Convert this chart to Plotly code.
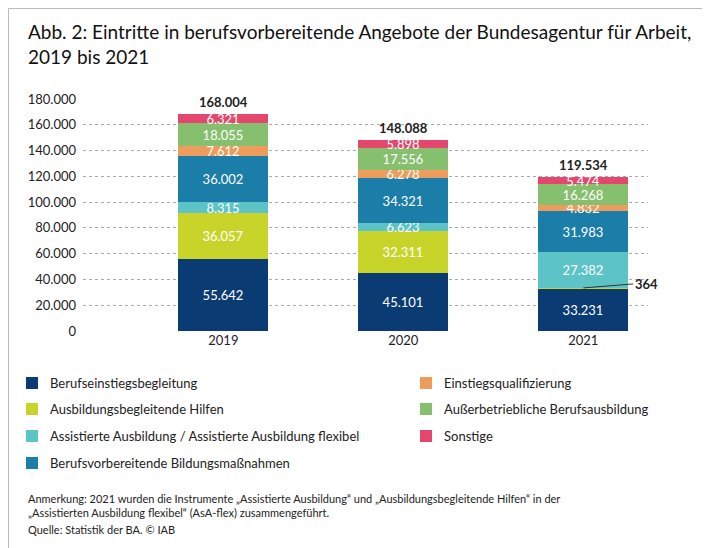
import plotly.graph_objects as go

years = ["2019", "2020", "2021"]
series = [
    ("Berufseinstiegsbegleitung", "#0b3b73", [55642, 45101, 33231]),
    ("Ausbildungsbegleitende Hilfen", "#c9d42b", [36057, 32311, 364]),
    ("Assistierte Ausbildung / Assistierte Ausbildung flexibel", "#5cc3c6", [8315, 6623, 27382]),
    ("Berufsvorbereitende Bildungsmaßnahmen", "#1b7ea8", [36002, 34321, 31983]),
    ("Einstiegsqualifizierung", "#ee9c5c", [7612, 6278, 4832]),
    ("Außerbetriebliche Berufsausbildung", "#86bf6e", [18055, 17556, 16268]),
    ("Sonstige", "#e5466d", [6321, 5898, 5474]),
]
totals = [168004, 148088, 119534]
yticks = list(range(0, 180001, 20000))


def de(n):
    return f"{n:,}".replace(",", ".")


FONT = "Lato"
W, H = 710, 548
L, R, T, B = 75, 70, 91, 225
PW, PH = W - L - R, H - T - B


# pixel -> paper coordinates (paper is the plot area)
def px(x):
    return (x - L) / PW


def py(y):
    return (H - B - y) / PH


xs = [0, 1, 2]
fig = go.Figure()
for name, color, vals in series:
    fig.add_trace(go.Bar(
        x=xs, y=vals, name=name, marker=dict(color=color, line=dict(width=0)),
        width=0.5,
        text=[de(v) if v > 1000 else "" for v in vals],
        textposition="inside", insidetextanchor="middle", constraintext="none",
        textfont=dict(color="white", size=13, family=FONT),
        cliponaxis=False, showlegend=False,
    ))

for x, t in zip(xs, totals):
    fig.add_annotation(x=x, y=t, text=f"<b>{de(t)}</b>", showarrow=False,
                       yanchor="bottom", yshift=2, font=dict(size=13, family=FONT, color="#222"))

fig.add_annotation(x=2, y=series[0][2][2] + series[1][2][2] / 2, text="<b>364</b>",
                   showarrow=True, ax=50, ay=-4, arrowhead=0, arrowcolor="#333",
                   arrowwidth=1, xanchor="left", standoff=0,
                   font=dict(size=13, family=FONT, color="#222"))

left = [0, 1, 2, 3]
right = [4, 5, 6]
rows = [375, 401, 428, 455]
for idxs, x0 in [(left, 18), (right, 412)]:
    for r, i in enumerate(idxs):
        name, color, _ = series[i]
        yc = rows[r]
        fig.add_shape(type="rect", xref="paper", yref="paper",
                      x0=px(x0), x1=px(x0 + 12), y0=py(yc + 6), y1=py(yc - 6),
                      fillcolor=color, line=dict(width=0))
        fig.add_annotation(xref="paper", yref="paper", x=px(x0 + 22), y=py(yc),
                           text=name, showarrow=False, xanchor="left", yanchor="middle",
                           font=dict(size=13, family=FONT, color="#222"))

notes = [
    (490, "Anmerkung: 2021 wurden die Instrumente „Assistierte Ausbildung“ und „Ausbildungsbegleitende Hilfen“ in der"),
    (505, "„Assistierten Ausbildung flexibel“ (AsA-flex) zusammengeführt."),
    (521, "Quelle: Statistik der BA. © IAB"),
]
for y, t in notes:
    fig.add_annotation(xref="paper", yref="paper", x=px(18), y=py(y), text=t,
                       showarrow=False, xanchor="left", yanchor="middle",
                       font=dict(size=11, family=FONT, color="#222"))

fig.add_annotation(xref="paper", yref="paper", x=px(18), y=py(10),
                   text="Abb. 2: Eintritte in berufsvorbereitende Angebote der Bundesagentur für Arbeit,<br>2019 bis 2021",
                   showarrow=False, xanchor="left", yanchor="top", align="left",
                   font=dict(size=19, family=FONT, color="#111"))

fig.add_shape(type="rect", xref="paper", yref="paper", x0=px(0.5), x1=px(W - 0.5),
              y0=py(H - 0.5), y1=py(0.5), line=dict(color="#bbb", width=1))

fig.update_layout(
    width=W, height=H, barmode="stack", bargap=0,
    margin=dict(l=L, r=R, t=T, b=B, autoexpand=False),
    plot_bgcolor="white", paper_bgcolor="white",
    font=dict(family=FONT, size=12, color="#222"),
    xaxis=dict(range=[-0.78, 2.36], tickvals=xs, ticktext=years, showgrid=False,
               zeroline=False, showline=False, ticks="", tickfont=dict(size=13)),
    yaxis=dict(range=[0, 180000], tickvals=yticks, ticktext=[de(v) for v in yticks],
               showgrid=True, gridcolor="#aaa", griddash="dot", gridwidth=1,
               zeroline=False, ticks="", tickfont=dict(size=13), ticklabelstandoff=6),
)
fig.write_html("out.html")
